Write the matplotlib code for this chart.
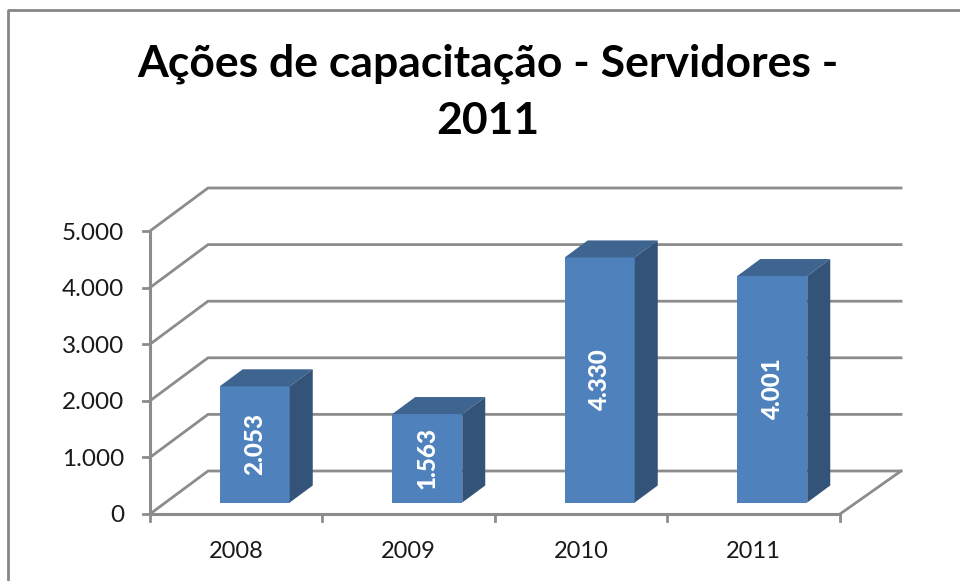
import matplotlib
matplotlib.use('Agg')
import matplotlib.pyplot as plt
from matplotlib.patches import Polygon
from matplotlib.lines import Line2D

# dados do grafico
anos = ['2008', '2009', '2010', '2011']
valores = [2053, 1563, 4330, 4001]
rotulos = ['2.053', '1.563', '4.330', '4.001']
ticks_y = [0, 1000, 2000, 3000, 4000, 5000]
ticks_y_txt = ['0', '1.000', '2.000', '3.000', '4.000', '5.000']
titulo = 'Ações de capacitação - Servidores -\n2011'

plt.rcParams['font.family'] = ['Lato', 'DejaVu Sans']

W, H = 960, 581
px_x = 172.5    # pixels por categoria
px_y = 0.0566   # pixels por unidade
x0, y0 = 150, 514

fig = plt.figure(figsize=(W / 100, H / 100), dpi=100)
ax = fig.add_axes([0, 0, 1, 1])
ax.set_xlim(-x0 / px_x, (W - x0) / px_x)
ax.set_ylim(-(H - y0) / px_y, y0 / px_y)
ax.axis('off')

cinza = '#8c8c8c'

# profundidade do 3D, convertida para unidades de dados
def prof(x, y, dx_px, dy_px):
    return x + dx_px / px_x, y + dy_px / px_y

dx_fundo, dy_fundo = 58, 43
fim_fundo = 4 + 3 / px_x

# moldura
fig.add_artist(Line2D([8 / W, 8 / W, 1], [0, 1 - 10 / H, 1 - 10 / H], color='#868686', lw=2))

# grade: diagonal na parede lateral e linha na parede do fundo
for v in ticks_y:
    xb, yb = prof(0, v, dx_fundo, dy_fundo)
    ax.plot([0, xb, fim_fundo + dx_fundo / px_x], [v, yb, yb], color=cinza, lw=2, solid_joinstyle='miter')
    ax.plot([-7 / px_x, 0], [v, v], color=cinza, lw=2)

# eixos
ax.plot([0, 0], [0, 5000], color=cinza, lw=2.2)
ax.plot([0, 4], [0, 0], color=cinza, lw=2.2)
xb, yb = prof(4, 0, dx_fundo + 3, dy_fundo)
ax.plot([4, xb], [0, yb], color=cinza, lw=2)
for i in range(5):
    ax.plot([i, i], [0, -7 / px_y], color=cinza, lw=2)

# rotulos dos eixos
for v, t in zip(ticks_y, ticks_y_txt):
    ax.text(-26 / px_x, v - 2 / px_y, t, ha='right', va='center', fontsize=17.5, color='#1a1a1a')
for i, a in enumerate(anos):
    ax.text(i + 0.5, -37 / px_y, a, ha='center', va='center', fontsize=17, color='#1a1a1a')

# barras 3D
larg = 70 / px_x
for i, v in enumerate(valores):
    xe = i + 0.5 + 18.5 / px_x - larg / 2
    xd = xe + larg
    base = 11.5 / px_y
    topo = base + v
    dx, dy = 23 / px_x, 17 / px_y
    ax.add_patch(Polygon([(xe, base), (xd, base), (xd, topo), (xe, topo)], color='#4f81bd', lw=0, zorder=5))
    ax.add_patch(Polygon([(xe, topo), (xd, topo), (xd + dx, topo + dy), (xe + dx, topo + dy)], color='#3e6490', lw=0, zorder=5))
    ax.add_patch(Polygon([(xd, base), (xd + dx, base + dy), (xd + dx, topo + dy), (xd, topo)], color='#335378', lw=0, zorder=5))
    ax.text((xe + xd) / 2, base + v / 2, rotulos[i], rotation=90, ha='center', va='center',
            color='white', fontsize=17.5, fontweight='black', zorder=6)

# titulo
fig.text(488 / W, 1 - 92 / H, titulo, ha='center', va='center', fontsize=32, fontweight='bold',
         color='black', linespacing=1.5)

fig.savefig('out.png', dpi=100)
